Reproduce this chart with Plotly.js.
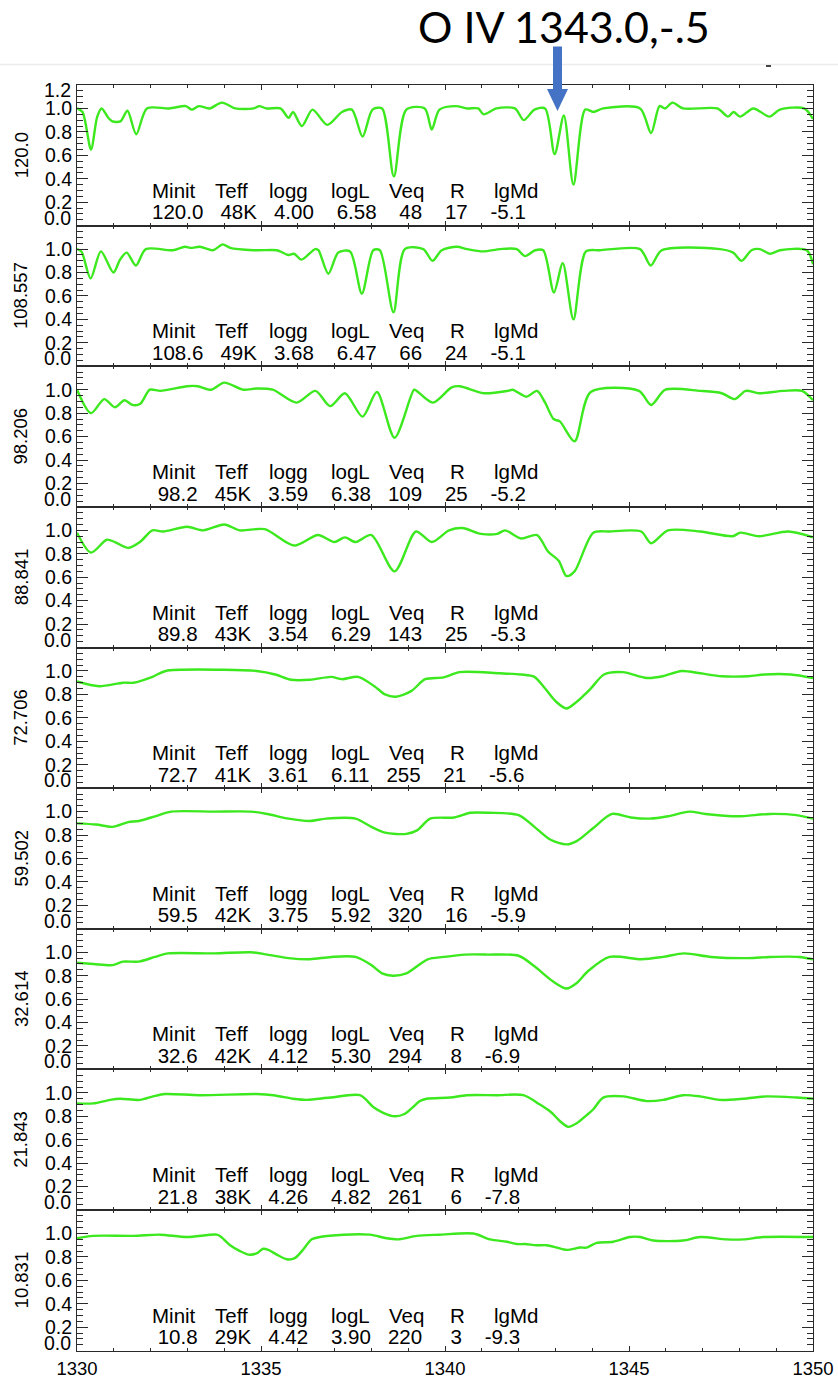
<!DOCTYPE html>
<html>
<head>
<meta charset="utf-8">
<script src="https://cdn.plot.ly/plotly-3.0.1.min.js"></script>
<style>
  html, body { margin: 0; padding: 0; background: #fff; }
  #chart { width: 838px; height: 1380px; }
</style>
</head>
<body>
<div id="chart"></div>
<script>
// Normalised flux around the O IV 1343 line for a sequence of rotating massive-star models.
// Each model: wavelength grid (Angstrom) and flux.
const w120 = [1330.0, 1330.15, 1330.38, 1330.55, 1330.67, 1330.85, 1330.96, 1331.18, 1331.37, 1331.61, 1331.9, 1332.5, 1332.96, 1333.12, 1333.31, 1333.6, 1333.94, 1334.3, 1334.8, 1334.95, 1335.15, 1335.53, 1335.75, 1335.87, 1336.11, 1336.4, 1336.8, 1337.2, 1337.47, 1337.76, 1338.03, 1338.29, 1338.61, 1338.95, 1339.45, 1339.64, 1339.85, 1340.3, 1340.6, 1340.9, 1341.05, 1341.4, 1341.9, 1342.14, 1342.43, 1342.72, 1342.98, 1343.23, 1343.49, 1343.81, 1344.03, 1344.3, 1345.3, 1345.6, 1345.83, 1345.98, 1346.18, 1346.47, 1347.4, 1347.69, 1347.84, 1348.02, 1348.38, 1348.82, 1349.1, 1349.76, 1350.0];
const f120 = [1.0, 0.97, 0.65, 0.93, 1.0, 0.92, 0.89, 0.89, 0.98, 0.78, 1.0, 1.0, 1.02, 0.99, 1.02, 1.0, 1.05, 1.0, 1.0, 1.02, 1.0, 1.0, 0.92, 0.97, 0.85, 0.99, 0.86, 0.97, 0.99, 0.76, 0.99, 1.0, 0.42, 0.99, 1.0, 0.82, 0.99, 1.02, 1.0, 1.0, 0.95, 1.0, 1.0, 0.90, 0.99, 1.0, 0.61, 0.94, 0.35, 0.99, 0.97, 1.0, 1.0, 0.79, 1.02, 1.0, 1.05, 1.0, 1.0, 0.93, 0.97, 0.93, 1.0, 0.93, 0.99, 1.0, 0.91];

const w108 = [1330.0, 1330.12, 1330.37, 1330.65, 1330.99, 1331.17, 1331.35, 1331.6, 1331.87, 1332.6, 1332.93, 1333.1, 1333.34, 1333.7, 1333.96, 1334.16, 1334.8, 1335.43, 1335.52, 1335.74, 1335.9, 1336.1, 1336.47, 1336.56, 1336.83, 1337.1, 1337.42, 1337.74, 1338.05, 1338.23, 1338.6, 1338.91, 1339.41, 1339.66, 1339.91, 1340.32, 1340.6, 1341.04, 1341.5, 1341.95, 1342.17, 1342.45, 1342.67, 1342.96, 1343.2, 1343.49, 1343.83, 1344.21, 1345.3, 1345.59, 1345.89, 1347.47, 1347.83, 1348.06, 1348.33, 1348.55, 1348.83, 1349.1, 1349.83, 1350.0];
const f108 = [1.0, 0.98, 0.75, 0.98, 0.80, 0.91, 0.97, 0.86, 1.0, 0.99, 1.02, 1.01, 1.02, 0.99, 1.04, 1.01, 0.99, 0.99, 0.98, 0.95, 0.96, 0.91, 1.0, 0.99, 0.79, 0.97, 0.98, 0.62, 0.99, 0.99, 0.46, 1.0, 1.0, 0.90, 0.99, 1.02, 1.0, 0.98, 1.0, 1.0, 0.94, 0.99, 0.99, 0.63, 0.88, 0.40, 0.98, 0.99, 1.0, 0.86, 0.99, 1.0, 0.97, 0.90, 0.99, 1.0, 0.96, 0.99, 0.99, 0.87];

const w98 = [1330.0, 1330.38, 1330.74, 1331.03, 1331.29, 1331.51, 1331.72, 1331.98, 1332.27, 1332.99, 1333.28, 1333.65, 1334.0, 1334.52, 1334.88, 1335.32, 1335.97, 1336.48, 1336.88, 1337.28, 1337.76, 1338.15, 1338.63, 1339.16, 1339.23, 1339.67, 1340.18, 1340.4, 1341.05, 1341.7, 1341.84, 1342.21, 1342.5, 1342.72, 1342.95, 1343.12, 1343.52, 1343.96, 1345.27, 1345.6, 1345.99, 1346.94, 1347.52, 1347.88, 1348.17, 1348.53, 1349.19, 1349.7, 1350.0];
const f98 = [1.0, 0.80, 0.92, 0.85, 0.91, 0.87, 0.88, 1.0, 0.99, 1.03, 1.03, 1.0, 1.06, 1.0, 1.01, 1.0, 0.89, 0.99, 0.86, 0.97, 0.77, 0.98, 0.59, 1.0, 0.99, 0.89, 1.02, 1.03, 0.97, 0.99, 1.0, 0.94, 0.99, 0.89, 0.75, 0.73, 0.56, 0.98, 0.99, 0.87, 1.0, 0.99, 0.97, 0.92, 0.99, 0.97, 0.99, 0.99, 0.91];

const w89 = [1330.0, 1330.38, 1330.81, 1331.03, 1331.39, 1331.71, 1332.05, 1332.34, 1332.99, 1333.43, 1334.0, 1334.43, 1335.1, 1335.9, 1336.55, 1336.99, 1337.28, 1337.57, 1338.0, 1338.63, 1339.21, 1339.64, 1340.11, 1340.47, 1340.98, 1341.42, 1341.63, 1342.07, 1342.5, 1342.8, 1343.09, 1343.3, 1343.52, 1344.03, 1344.46, 1345.33, 1345.6, 1346.06, 1346.94, 1347.81, 1348.03, 1348.54, 1349.33, 1350.0];
const f89 = [0.98, 0.81, 0.92, 0.90, 0.85, 0.90, 1.0, 0.99, 1.03, 1.0, 1.05, 1.0, 1.01, 0.87, 0.96, 0.90, 0.94, 0.90, 0.96, 0.65, 0.99, 0.90, 1.0, 1.02, 0.97, 0.97, 1.0, 0.93, 0.96, 0.82, 0.74, 0.61, 0.65, 0.98, 0.99, 0.99, 0.89, 1.0, 0.99, 0.95, 0.98, 0.95, 0.99, 0.94];

const w73 = [1330.0, 1330.6, 1331.25, 1331.54, 1332.05, 1332.41, 1334.0, 1334.88, 1335.39, 1335.82, 1336.33, 1336.91, 1337.2, 1337.64, 1338.08, 1338.37, 1338.66, 1339.09, 1339.46, 1339.96, 1340.4, 1341.49, 1342.07, 1342.43, 1342.72, 1343.01, 1343.3, 1343.59, 1343.96, 1344.32, 1344.83, 1345.48, 1345.92, 1346.43, 1346.94, 1347.52, 1348.24, 1348.68, 1349.4, 1350.0];
const f73 = [0.91, 0.87, 0.90, 0.90, 0.95, 1.0, 1.01, 1.0, 0.97, 0.925, 0.925, 0.95, 0.93, 0.95, 0.87, 0.80, 0.78, 0.83, 0.93, 0.945, 0.99, 0.98, 0.97, 0.95, 0.85, 0.74, 0.68, 0.74, 0.85, 0.97, 0.99, 0.94, 0.955, 1.0, 0.98, 0.955, 0.955, 0.97, 0.97, 0.94];

const w60 = [1330.0, 1330.52, 1330.96, 1331.39, 1331.68, 1332.12, 1332.56, 1333.72, 1334.73, 1335.17, 1335.75, 1336.33, 1336.77, 1337.57, 1338.0, 1338.37, 1338.95, 1339.24, 1339.6, 1340.25, 1340.69, 1341.2, 1342.0, 1342.43, 1342.87, 1343.3, 1343.59, 1344.03, 1344.54, 1345.05, 1345.56, 1346.06, 1346.64, 1347.08, 1347.95, 1348.82, 1349.55, 1350.0];
const f60 = [0.90, 0.89, 0.87, 0.91, 0.92, 0.96, 1.0, 1.0, 1.0, 0.98, 0.94, 0.92, 0.94, 0.94, 0.87, 0.82, 0.81, 0.84, 0.94, 0.95, 0.99, 0.99, 0.97, 0.87, 0.76, 0.72, 0.75, 0.86, 0.98, 0.95, 0.94, 0.96, 1.0, 0.98, 0.96, 0.98, 0.97, 0.94];

const w33 = [1330.0, 1330.45, 1330.96, 1331.25, 1331.68, 1332.12, 1332.48, 1333.72, 1334.73, 1335.17, 1335.75, 1336.33, 1336.91, 1337.57, 1338.0, 1338.29, 1338.58, 1338.95, 1339.53, 1339.96, 1340.54, 1341.13, 1342.0, 1342.43, 1342.94, 1343.3, 1343.59, 1343.89, 1344.47, 1345.34, 1345.92, 1346.5, 1347.23, 1348.24, 1348.82, 1349.62, 1350.0];
const f33 = [0.91, 0.90, 0.89, 0.92, 0.92, 0.96, 0.99, 0.99, 1.0, 0.98, 0.95, 0.94, 0.96, 0.96, 0.89, 0.82, 0.80, 0.82, 0.94, 0.96, 0.98, 0.98, 0.97, 0.88, 0.75, 0.69, 0.74, 0.84, 0.96, 0.94, 0.96, 0.99, 0.96, 0.95, 0.96, 0.96, 0.94];

const w22 = [1330.0, 1330.44, 1330.9, 1331.17, 1331.71, 1332.07, 1332.39, 1333.34, 1334.88, 1335.34, 1335.88, 1336.24, 1336.88, 1337.69, 1338.05, 1338.32, 1338.64, 1338.9, 1339.1, 1339.32, 1339.5, 1340.14, 1340.59, 1341.4, 1342.13, 1342.58, 1342.9, 1343.12, 1343.35, 1343.58, 1343.85, 1344.03, 1344.3, 1344.85, 1345.48, 1345.93, 1346.47, 1346.93, 1347.47, 1348.11, 1348.74, 1349.56, 1350.0];
const f22 = [0.91, 0.91, 0.94, 0.95, 0.94, 0.97, 0.99, 0.98, 0.99, 0.98, 0.95, 0.94, 0.96, 0.98, 0.88, 0.83, 0.80, 0.82, 0.87, 0.93, 0.95, 0.96, 0.98, 0.98, 0.98, 0.90, 0.83, 0.76, 0.71, 0.74, 0.81, 0.86, 0.96, 0.97, 0.93, 0.94, 0.98, 0.97, 0.94, 0.95, 0.97, 0.96, 0.95];

const w11 = [1330.0, 1330.44, 1331.53, 1332.26, 1332.98, 1333.8, 1333.92, 1334.16, 1334.43, 1334.66, 1334.88, 1335.06, 1335.2, 1335.43, 1335.7, 1335.92, 1336.11, 1336.38, 1336.6, 1337.24, 1337.96, 1338.41, 1338.73, 1339.23, 1339.86, 1340.77, 1341.22, 1341.68, 1341.95, 1342.17, 1342.49, 1342.76, 1343.04, 1343.31, 1343.67, 1343.85, 1344.12, 1344.57, 1345.02, 1345.3, 1345.66, 1346.47, 1346.93, 1347.65, 1348.11, 1348.65, 1350.0];
const f11 = [0.96, 0.98, 0.98, 0.99, 0.97, 0.99, 0.97, 0.90, 0.85, 0.82, 0.83, 0.87, 0.86, 0.82, 0.78, 0.79, 0.85, 0.95, 0.97, 0.99, 0.99, 0.96, 0.95, 0.98, 0.99, 1.0, 0.95, 0.93, 0.91, 0.91, 0.90, 0.90, 0.88, 0.86, 0.88, 0.88, 0.92, 0.93, 0.97, 0.97, 0.94, 0.94, 0.97, 0.95, 0.95, 0.97, 0.97];

// Current mass shown on each panel's y axis, and the model parameters printed inside.
const massLabels = ['120.0', '108.557', '98.206', '88.841', '72.706', '59.502', '32.614', '21.843', '10.831'];
const minit = ['120.0', '108.6', '98.2', '89.8', '72.7', '59.5', '32.6', '21.8', '10.8'];
const teff  = ['48K', '49K', '45K', '43K', '41K', '42K', '42K', '38K', '29K'];
const logg  = ['4.00', '3.68', '3.59', '3.54', '3.61', '3.75', '4.12', '4.26', '4.42'];
const logL  = ['6.58', '6.47', '6.38', '6.29', '6.11', '5.92', '5.30', '4.82', '3.90'];
const veq   = ['48', '66', '109', '143', '255', '320', '294', '261', '220'];
const rad   = ['17', '24', '25', '25', '21', '16', '8', '6', '3'];
const lgMd  = ['-5.1', '-5.1', '-5.2', '-5.3', '-5.6', '-5.9', '-6.9', '-7.8', '-9.3'];
const headers = ['Minit', 'Teff', 'logg', 'logL', 'Veq', 'R', 'lgMd'];

const waves = [w120, w108, w98, w89, w73, w60, w33, w22, w11];
const fluxes = [f120, f108, f98, f89, f73, f60, f33, f22, f11];

// ---- page geometry (pixels) ----
const W = 838, H = 1380;
const frameL = 77, frameR = 813, frameT = 85, frameB = 1350.7;
const nP = massLabels.length;
const pH = (frameB - frameT) / nP;
const fx = p => p / W;
const fy = p => 1 - p / H;

const FAMILY = 'Liberation Sans, Arial, Helvetica, sans-serif';
const axisColor = '#2a2a2a';
const tickFont = { family: FAMILY, size: 19.5, color: '#000' };
const textFont = { family: FAMILY, size: 20.5, color: '#000' };
const headerX = [150, 213, 267, 329, 387, 448, 492];

const nb = '\u00a0';
const pad = (s, n) => nb.repeat(Math.max(0, n - s.length)) + s;
const gap = n => nb.repeat(n);
const valueLine = i => pad(minit[i], 5) + gap(3) + teff[i] + gap(3) + logg[i] + gap(4) + logL[i] +
  gap(3) + pad(veq[i], 3) + gap(4) + pad(rad[i], 2) + gap(4) + lgMd[i];

const traces = [];
const annotations = [];
const shapes = [];
const layout = {
  width: W, height: H,
  margin: { l: 0, r: 0, t: 0, b: 0 },
  paper_bgcolor: '#ffffff', plot_bgcolor: '#ffffff',
  showlegend: false,
  font: { family: FAMILY, color: '#000' },
  annotations, shapes
};

for (let k = 0; k < nP; k++) {
  const id = k === 0 ? '' : String(k + 1);
  const top = frameT + k * pH, bot = top + pH;
  const last = k === nP - 1;

  layout['xaxis' + id] = {
    domain: [fx(frameL), fx(frameR)], anchor: 'y' + id,
    range: [1330, 1350], tickmode: 'linear', tick0: 1330, dtick: 5,
    ticks: 'inside', ticklen: 5, tickwidth: 1, tickcolor: axisColor,
    minor: { tickmode: 'linear', tick0: 1330, dtick: 1, ticks: 'inside', ticklen: 3, tickwidth: 1, tickcolor: axisColor },
    showline: true, linecolor: axisColor, linewidth: 1, mirror: 'ticks',
    showgrid: false, zeroline: false, fixedrange: true,
    showticklabels: last, tickfont: { family: FAMILY, size: 18.5, color: '#000' },
    ticklabelstandoff: 1
  };
  layout['yaxis' + id] = {
    domain: [fy(bot), fy(top)], anchor: 'x' + id,
    range: [0, 1.2], tickmode: 'linear', tick0: 0, dtick: 0.2, tickformat: '.1f',
    labelalias: { '0.0': '', '1.2': '' },
    ticks: 'inside', ticklen: 11, tickwidth: 1, tickcolor: axisColor,
    minor: { tickmode: 'linear', tick0: 0, dtick: 0.05, ticks: 'inside', ticklen: 6, tickwidth: 1, tickcolor: axisColor },
    showline: true, linecolor: axisColor, linewidth: 1, mirror: 'ticks',
    showgrid: false, zeroline: false, fixedrange: true,
    tickfont: tickFont
  };

  traces.push({
    type: 'scatter', mode: 'lines',
    x: waves[k], y: fluxes[k],
    xaxis: 'x' + id, yaxis: 'y' + id,
    line: { color: '#3ce81e', width: 2.4, shape: 'spline', smoothing: 0.8 },
    hoverinfo: 'skip'
  });

  // bottom "0.0" label sits just above the lower frame line
  annotations.push({
    xref: 'paper', x: fx(72.5), xanchor: 'right',
    yref: 'y' + id, y: 0, yanchor: 'middle', yshift: 8,
    text: '0.0', showarrow: false, font: tickFont
  });
  if (k === 0) {
    annotations.push({
      xref: 'paper', x: fx(72.5), xanchor: 'right',
      yref: 'y' + id, y: 1.2, yanchor: 'middle', yshift: -5,
      text: '1.2', showarrow: false, font: tickFont
    });
  }

  // rotated mass label on the left
  annotations.push({
    xref: 'paper', x: fx(21), xanchor: 'center',
    yref: 'y' + id, y: 0.6, yanchor: 'middle',
    text: massLabels[k], textangle: -90, showarrow: false,
    font: { family: FAMILY, size: 18.5, color: '#000' }
  });

  // parameter header and values
  headers.forEach((h, j) => {
    annotations.push({
      xref: 'paper', x: fx(headerX[j]), xanchor: 'left',
      yref: 'y' + id, y: 0.303, yanchor: 'middle',
      text: h, showarrow: false, font: textFont
    });
  });
  annotations.push({
    xref: 'paper', x: fx(150), xanchor: 'left',
    yref: 'y' + id, y: 0.118, yanchor: 'middle',
    text: valueLine(k), showarrow: false, font: textFont
  });
}

// line identification at the top, with a pointer
annotations.push({
  xref: 'paper', yref: 'paper', x: fx(564), y: fy(26),
  xanchor: 'center', yanchor: 'middle',
  text: 'O IV 1343.0,-.5', showarrow: false,
  font: { family: 'Lato, Carlito, Calibri, sans-serif', size: 43, color: '#000' }
});
shapes.push({
  type: 'line', xref: 'paper', yref: 'paper',
  x0: 0, x1: 1, y0: fy(64.5), y1: fy(64.5),
  line: { color: '#ebebeb', width: 1.5 }
});
shapes.push({
  type: 'line', xref: 'paper', yref: 'paper',
  x0: fx(766), x1: fx(771), y0: fy(66), y1: fy(66),
  line: { color: '#444444', width: 2 }
});
shapes.push({
  type: 'rect', xref: 'paper', yref: 'paper',
  x0: fx(553), x1: fx(562), y0: fy(91), y1: fy(46.5),
  fillcolor: '#4472c4', line: { width: 0 }
});
shapes.push({
  type: 'path', xref: 'paper', yref: 'paper',
  path: `M ${fx(547)} ${fy(89)} L ${fx(568)} ${fy(89)} L ${fx(557.5)} ${fy(111)} Z`,
  fillcolor: '#4472c4', line: { width: 0 }
});

Plotly.newPlot('chart', traces, layout, { staticPlot: true, displayModeBar: false });
</script>
</body>
</html>
